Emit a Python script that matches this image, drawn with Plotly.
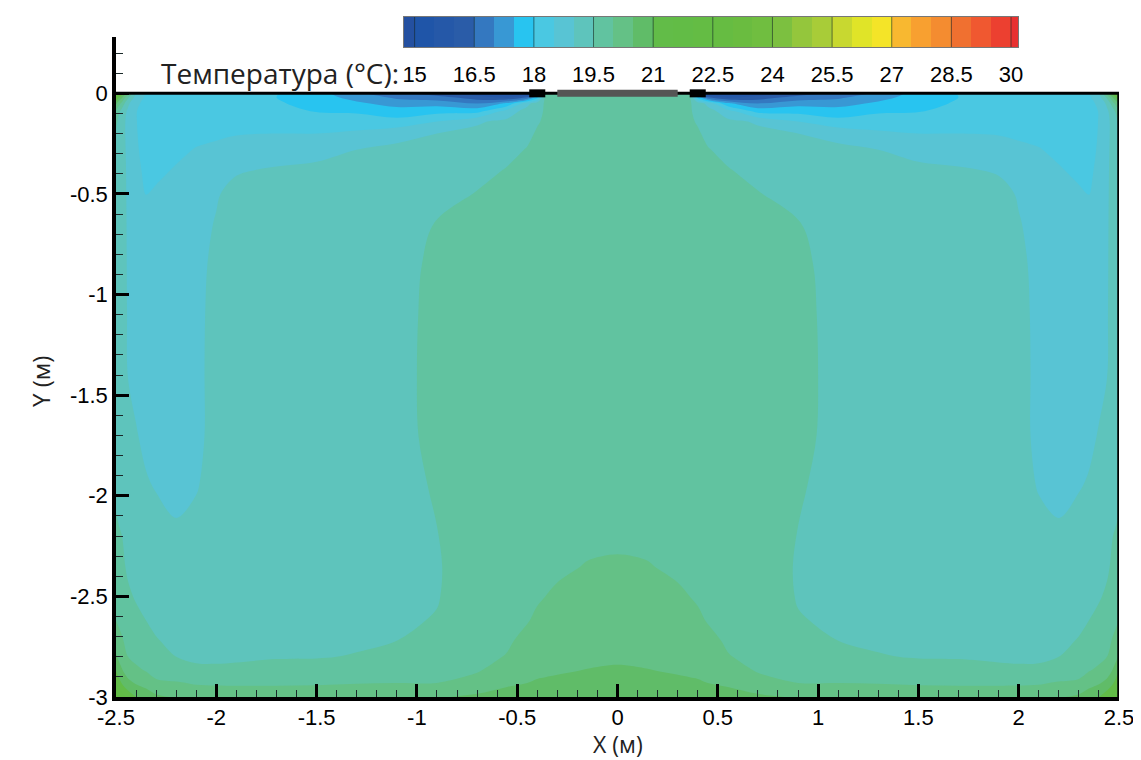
import numpy as np
import plotly.graph_objects as go

# ---------------- data ----------------
# x nodes of the left half of the room (m); the field is symmetric about x = 0
x_half = [-2.5, -2.47, -2.44, -2.4, -2.35, -2.3, -2.2, -2.1, -2.0, -1.9, -1.7, -1.5,
          -1.3, -1.1, -0.9, -0.7, -0.55, -0.45, -0.4, -0.36, -0.3, -0.15, 0.0]
# y nodes from ceiling (0) to floor (-3)
y_nodes = [0.0, -0.02, -0.05, -0.09, -0.14, -0.2, -0.28, -0.38, -0.5, -0.65, -0.85, -1.1,
           -1.4, -1.7, -1.95, -2.15, -2.35, -2.5, -2.62, -2.72, -2.8, -2.87, -2.93, -3.0]

# temperature (°C), one column per x node (top -> bottom)
t_x_m2_50 = [22.5, 21.6, 20.6, 19.9, 19.6, 19.45, 19.4, 19.38, 19.38, 19.38, 19.38, 19.4, 19.42, 19.45, 19.46, 19.52, 19.65, 19.82, 20.0, 20.3, 20.55, 21.0, 21.5, 22.3]
t_x_m2_47 = [21.3, 20.6, 19.8, 19.3, 19.15, 19.12, 19.15, 19.16, 19.17, 19.18, 19.18, 19.2, 19.22, 19.3, 19.4, 19.48, 19.56, 19.68, 19.85, 20.05, 20.25, 20.55, 20.95, 21.7]
t_x_m2_44 = [20.2, 19.6, 19.1, 18.9, 18.88, 18.9, 18.9, 18.92, 18.93, 18.94, 18.95, 18.96, 18.99, 19.12, 19.25, 19.35, 19.45, 19.55, 19.68, 19.85, 20.0, 20.25, 20.65, 21.3]
t_x_m2_40 = [19.0, 18.8, 18.6, 18.52, 18.52, 18.53, 18.55, 18.58, 18.64, 18.72, 18.8, 18.86, 18.92, 19.02, 19.15, 19.27, 19.4, 19.47, 19.58, 19.72, 19.88, 20.1, 20.45, 21.0]
t_x_m2_35 = [18.5, 18.42, 18.35, 18.3, 18.3, 18.33, 18.37, 18.43, 18.49, 18.68, 18.78, 18.82, 18.85, 18.93, 19.03, 19.15, 19.3, 19.42, 19.5, 19.62, 19.75, 19.98, 20.3, 20.8]
t_x_m2_30 = [18.35, 18.3, 18.26, 18.25, 18.27, 18.3, 18.35, 18.42, 18.55, 18.68, 18.76, 18.8, 18.82, 18.88, 18.98, 19.1, 19.25, 19.35, 19.43, 19.52, 19.62, 19.8, 20.1, 20.6]
t_x_m2_20 = [18.25, 18.22, 18.22, 18.25, 18.28, 18.33, 18.42, 18.53, 18.65, 18.75, 18.82, 18.85, 18.86, 18.88, 18.92, 19.02, 19.15, 19.25, 19.33, 19.42, 19.5, 19.63, 20.05, 20.45]
t_x_m2_10 = [18.15, 18.15, 18.18, 18.22, 18.3, 18.4, 18.52, 18.65, 18.75, 18.85, 18.9, 18.92, 18.93, 18.93, 18.98, 19.07, 19.17, 19.23, 19.3, 19.38, 19.45, 19.56, 19.95, 20.35]
t_x_m2_00 = [18.12, 18.12, 18.15, 18.2, 18.3, 18.42, 18.6, 18.8, 18.96, 19.03, 19.08, 19.1, 19.1, 19.1, 19.12, 19.17, 19.22, 19.27, 19.32, 19.38, 19.45, 19.55, 19.93, 20.3]
t_x_m1_90 = [18.1, 18.1, 18.15, 18.2, 18.3, 18.48, 18.65, 18.95, 19.15, 19.25, 19.28, 19.3, 19.3, 19.3, 19.3, 19.3, 19.32, 19.33, 19.36, 19.4, 19.46, 19.56, 19.93, 20.28]
t_x_m1_70 = [18.02, 18.0, 18.05, 18.15, 18.3, 18.5, 18.75, 19.05, 19.2, 19.27, 19.3, 19.32, 19.33, 19.33, 19.33, 19.33, 19.33, 19.35, 19.37, 19.42, 19.48, 19.6, 19.94, 20.25]
t_x_m1_50 = [17.7, 17.75, 17.85, 17.98, 18.25, 18.5, 18.85, 19.1, 19.22, 19.28, 19.32, 19.34, 19.35, 19.35, 19.34, 19.33, 19.33, 19.35, 19.37, 19.42, 19.48, 19.65, 19.95, 20.25]
t_x_m1_30 = [17.1, 17.3, 17.6, 17.95, 18.2, 18.6, 19.0, 19.2, 19.28, 19.32, 19.35, 19.37, 19.38, 19.38, 19.37, 19.36, 19.36, 19.38, 19.4, 19.45, 19.52, 19.7, 19.98, 20.3]
t_x_m1_10 = [16.6, 16.9, 17.3, 17.75, 18.15, 18.85, 19.1, 19.25, 19.3, 19.35, 19.4, 19.42, 19.43, 19.43, 19.4, 19.38, 19.38, 19.4, 19.45, 19.5, 19.6, 19.75, 20.0, 20.35]
t_x_m0_90 = [16.2, 16.7, 17.3, 17.85, 18.5, 19.0, 19.15, 19.25, 19.35, 19.52, 19.56, 19.57, 19.57, 19.56, 19.53, 19.5, 19.47, 19.48, 19.52, 19.6, 19.72, 19.85, 20.0, 20.45]
t_x_m0_70 = [15.7, 16.2, 17.0, 17.85, 18.95, 19.1, 19.25, 19.38, 19.52, 19.62, 19.66, 19.68, 19.68, 19.68, 19.68, 19.68, 19.7, 19.72, 19.76, 19.82, 19.9, 19.97, 20.15, 20.6]
t_x_m0_55 = [15.4, 15.9, 17.6, 18.75, 19.1, 19.25, 19.4, 19.52, 19.65, 19.7, 19.72, 19.73, 19.73, 19.72, 19.7, 19.72, 19.76, 19.82, 19.88, 19.95, 20.02, 20.2, 20.42, 20.7]
t_x_m0_45 = [15.2, 16.5, 18.85, 19.2, 19.33, 19.42, 19.52, 19.62, 19.68, 19.72, 19.74, 19.75, 19.75, 19.74, 19.72, 19.74, 19.8, 19.9, 19.98, 20.1, 20.22, 20.36, 20.5, 20.75]
t_x_m0_40 = [14.9, 17.8, 19.3, 19.45, 19.47, 19.54, 19.62, 19.66, 19.7, 19.73, 19.75, 19.76, 19.76, 19.75, 19.74, 19.76, 19.85, 19.96, 20.06, 20.16, 20.27, 20.4, 20.55, 20.8]
t_x_m0_36 = [19.55, 19.6, 19.55, 19.52, 19.55, 19.6, 19.65, 19.68, 19.72, 19.74, 19.76, 19.77, 19.77, 19.76, 19.75, 19.78, 19.88, 20.0, 20.1, 20.2, 20.3, 20.42, 20.57, 20.82]
t_x_m0_30 = [19.75, 19.75, 19.72, 19.7, 19.7, 19.72, 19.74, 19.75, 19.76, 19.77, 19.78, 19.78, 19.78, 19.78, 19.78, 19.82, 19.93, 20.06, 20.15, 20.23, 20.32, 20.45, 20.6, 20.85]
t_x_m0_15 = [19.78, 19.78, 19.77, 19.76, 19.76, 19.77, 19.78, 19.78, 19.79, 19.8, 19.8, 19.8, 19.8, 19.8, 19.8, 19.87, 20.02, 20.12, 20.2, 20.28, 20.38, 20.52, 20.66, 20.88]
t_x_0_00 = [19.8, 19.8, 19.78, 19.78, 19.78, 19.78, 19.79, 19.8, 19.8, 19.8, 19.8, 19.8, 19.8, 19.8, 19.8, 19.88, 20.05, 20.15, 20.22, 20.3, 20.42, 20.56, 20.7, 20.9]

# legend levels and band colours (band centres, incl. the below/above-range bands)
level_start, level_end, level_step = 15.0, 30.0, 0.5
band_colors = ["#2450a0", "#1f55a8", "#2558a8", "#2a5ca8", "#3478c0", "#3898d4", "#28c4f0",
               "#4ac8e2", "#58c4d4", "#5ec4bc", "#61c3a0", "#64c186", "#60bc68", "#62bc48",
               "#62bc46", "#64bc44", "#66bc42", "#6abc40", "#70be40", "#7cc040", "#94c63c",
               "#a8cc38", "#c8d830", "#e0e428", "#f4e428", "#f8b830", "#f8a030", "#f48c30",
               "#f07030", "#f05830", "#ec4030", "#e83030"]
legend_ticks = [15, 16.5, 18, 19.5, 21, 22.5, 24, 25.5, 27, 28.5, 30]
legend_labels = ["15", "16.5", "18", "19.5", "21", "22.5", "24", "25.5", "27", "28.5", "30"]

# axis ticks
x_ticks = [-2.5, -2, -1.5, -1, -0.5, 0, 0.5, 1, 1.5, 2, 2.5]
x_tick_labels = ["-2.5", "-2", "-1.5", "-1", "-0.5", "0", "0.5", "1", "1.5", "2", "2.5"]
y_ticks = [0, -0.5, -1, -1.5, -2, -2.5, -3]
y_tick_labels = ["0", "-0.5", "-1", "-1.5", "-2", "-2.5", "-3"]

# room geometry
room_x = [-2.5, 2.5]
room_y = [-3.0, 0.0]
inlet_left_x = [-0.44, -0.36]
inlet_right_x = [0.36, 0.44]
diffuser_x = [-0.3, 0.3]

# ---------------- build the field ----------------
cols_left = [t_x_m2_50, t_x_m2_47, t_x_m2_44, t_x_m2_40, t_x_m2_35, t_x_m2_30, t_x_m2_20,
             t_x_m2_10, t_x_m2_00, t_x_m1_90, t_x_m1_70, t_x_m1_50, t_x_m1_30, t_x_m1_10,
             t_x_m0_90, t_x_m0_70, t_x_m0_55, t_x_m0_45, t_x_m0_40, t_x_m0_36, t_x_m0_30,
             t_x_m0_15, t_x_0_00]
left = np.array(cols_left).T               # rows = y, cols = x (left half)
full = np.hstack([left, left[:, -2::-1]])  # mirror about x = 0
x_full = list(x_half) + [-v for v in x_half[-2::-1]]
y_asc = y_nodes[::-1]
z_asc = full[::-1, :]

lo = level_start - level_step / 2
hi = level_end + level_step / 2
n = len(band_colors)
cscale = [[i / (n - 1), c] for i, c in enumerate(band_colors)]
band_mid = list(np.linspace(lo, hi, n))

FONT = "Liberation Sans, Arial, sans-serif"
TFONT = "Open Sans, sans-serif"

fig = go.Figure()
fig.add_trace(go.Contour(
    x=x_full, y=y_asc, z=z_asc,
    colorscale=cscale, showscale=False, hoverinfo="skip",
    contours=dict(start=level_start, end=level_end, size=level_step,
                  coloring="fill", showlines=False),
    line=dict(width=0, smoothing=1.0),
))

# room walls (ceiling and right wall)
fig.add_trace(go.Scatter(x=room_x, y=[room_y[1], room_y[1]], mode="lines",
                         line=dict(color="black", width=3), hoverinfo="skip",
                         showlegend=False, cliponaxis=False))
fig.add_trace(go.Scatter(x=[room_x[1], room_x[1]], y=room_y, mode="lines",
                         line=dict(color="black", width=3.5), hoverinfo="skip",
                         showlegend=False, cliponaxis=False))
# supply diffuser and inlets
fig.add_trace(go.Scatter(x=diffuser_x, y=[room_y[1], room_y[1]], mode="lines",
                         line=dict(color="#555555", width=7), hoverinfo="skip",
                         showlegend=False, cliponaxis=False))
for ix in (inlet_left_x, inlet_right_x):
    fig.add_trace(go.Scatter(x=ix, y=[room_y[1], room_y[1]], mode="lines",
                             line=dict(color="black", width=8), hoverinfo="skip",
                             showlegend=False, cliponaxis=False))

# legend bar as heatmap
fig.add_trace(go.Heatmap(x=band_mid, y=[0], z=[band_mid], colorscale=cscale,
                         zmin=lo, zmax=hi, showscale=False, hoverinfo="skip",
                         xaxis="x2", yaxis="y2"))
sep_x, sep_y = [], []
for t in legend_ticks:
    sep_x += [t, t, None]
    sep_y += [-0.5, 0.5, None]
fig.add_trace(go.Scatter(x=sep_x, y=sep_y, mode="lines", xaxis="x2", yaxis="y2",
                         line=dict(color="rgba(20,40,40,0.6)", width=1),
                         hoverinfo="skip", showlegend=False))

# page body has an 8px margin: work in window pixels, convert to figure fractions
OFF = 8
W, H = 1133, 752
ml, mr, mt, mb = 108, 22, 7, 63
ph = H - mt - mb
pw = W - ml - mr


def fy(py):
    return (H - mb - (py - OFF)) / ph


def fx(px):
    return (px - OFF - ml) / pw


fig.update_layout(
    width=W, height=H,
    margin=dict(l=ml, r=mr, t=mt, b=mb, autoexpand=False),
    paper_bgcolor="white", plot_bgcolor="white",
    template="none", showlegend=False,
    font=dict(family=FONT, color="black", size=20),
    xaxis=dict(domain=[0, 1], range=room_x, tickmode="array", tickvals=x_ticks,
               ticktext=x_tick_labels, ticks="inside", ticklen=13, tickwidth=2.5,
               tickcolor="black", showline=True, linewidth=3.5, linecolor="black",
               showgrid=False, zeroline=False, tickfont=dict(size=22),
               ticklabelstandoff=-2,
               minor=dict(ticks="inside", tick0=-2.5, dtick=0.1, ticklen=7, tickwidth=1.3,
                          tickcolor="#1a2a2a", showgrid=False),
               anchor="y", automargin=False),
    yaxis=dict(domain=[0, fy(37)], range=[-3, 0.28], tickmode="array", tickvals=y_ticks,
               ticktext=y_tick_labels, ticks="inside", ticklen=13, tickwidth=2.5,
               tickcolor="black", showline=True, linewidth=3.5, linecolor="black",
               showgrid=False, zeroline=False, tickfont=dict(size=22),
               minor=dict(ticks="inside", tick0=0, dtick=0.1, ticklen=7, tickwidth=1.3,
                          tickcolor="#1a2a2a", showgrid=False),
               anchor="x", automargin=False),
    xaxis2=dict(domain=[fx(404), fx(1018)], range=[14.733, 30.176], anchor="y2",
                tickmode="array", tickvals=legend_ticks, ticktext=legend_labels,
                ticks="", ticklabelstandoff=8, tickfont=dict(size=22),
                showline=True, mirror=True, linecolor="#777", linewidth=1,
                showgrid=False, zeroline=False, automargin=False),
    yaxis2=dict(domain=[fy(47), fy(17)], range=[-0.5, 0.5], anchor="x2",
                showticklabels=False, ticks="", showline=True, mirror=True,
                linecolor="#777", linewidth=1, showgrid=False, zeroline=False,
                automargin=False),
    annotations=[
        dict(text="Температура (°C):", xref="paper", yref="paper",
             x=fx(401), y=fy(73), xanchor="right", yanchor="middle", showarrow=False,
             font=dict(size=28, family=TFONT, color="#222")),
        dict(text="X (м)", xref="paper", yref="paper", borderpad=0,
             x=fx(618), y=fy(744), xanchor="center", yanchor="middle", showarrow=False,
             font=dict(size=23, family=TFONT, color="#222")),
        dict(text="Y (м)", xref="paper", yref="paper", textangle=-90, borderpad=0,
             x=fx(40), y=fy(382), xanchor="center", yanchor="middle", showarrow=False,
             font=dict(size=24, family=TFONT, color="#222")),
    ],
)

fig.write_html("out.html")
